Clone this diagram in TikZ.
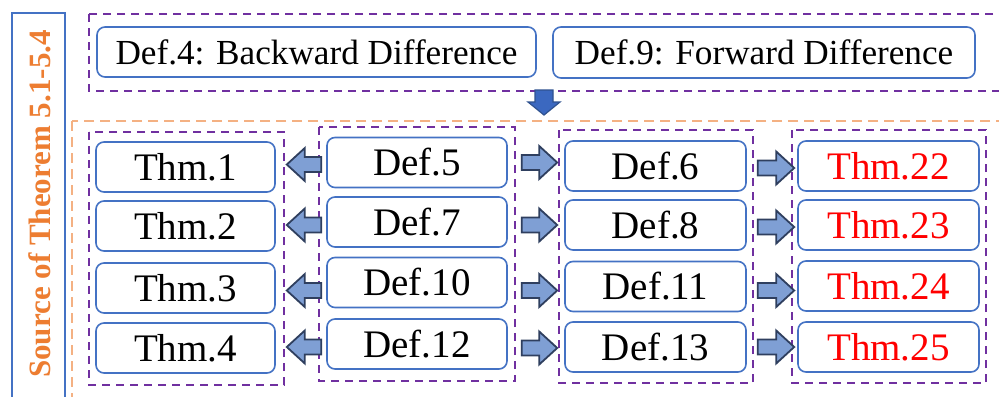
\documentclass[tikz,border=0pt]{standalone}
\usepackage{fontspec}
\setmainfont{Liberation Serif}
\usetikzlibrary{calc}
\definecolor{boxblue}{HTML}{4472C4}
\definecolor{purp}{HTML}{7030A0}
\definecolor{lorange}{HTML}{F4B183}
\definecolor{dorange}{HTML}{ED7D31}
\definecolor{arrfill}{HTML}{7F9FD4}
\definecolor{arrline}{HTML}{2F3F5F}
\definecolor{downfill}{HTML}{3B68C0}
\definecolor{downline}{HTML}{2F528F}
\tikzset{
  nbox/.style={draw=boxblue, line width=0.8pt, rounded corners=4pt, fill=white,
    minimum height=25pt, minimum width=90pt, inner sep=0pt,
    font=\fontsize{19.5}{22}\selectfont},
  wbox/.style={nbox, font=\fontsize{17.6}{20}\selectfont},
  redt/.style={text=red},
  group/.style={draw=purp, line width=1pt, dash pattern=on 4pt off 3pt},
  ogroup/.style={draw=lorange, line width=1pt, dash pattern=on 5pt off 3pt},
  blockarr/.style={fill=arrfill, draw=arrline, line width=0.9pt, line join=miter},
  downarr/.style={fill=downfill, draw=downline, line width=0.6pt}
}
\newcommand{\arrR}[2]{%
  \path[blockarr] let \p1=(#1), \p2=(#2) in
   (\x1,\y1+3.75pt) -- (\x2-9pt,\y1+3.75pt) -- (\x2-9pt,\y1+8.25pt) -- (\x2,\y1)
   -- (\x2-9pt,\y1-8.25pt) -- (\x2-9pt,\y1-3.75pt) -- (\x1,\y1-3.75pt) -- cycle;}
\newcommand{\arrL}[2]{%
  \path[blockarr] let \p1=(#1), \p2=(#2) in
   (\x1,\y1+3.75pt) -- (\x2+9pt,\y1+3.75pt) -- (\x2+9pt,\y1+8.25pt) -- (\x2,\y1)
   -- (\x2+9pt,\y1-8.25pt) -- (\x2+9pt,\y1-3.75pt) -- (\x1,\y1-3.75pt) -- cycle;}
\begin{document}
\begin{tikzpicture}[x=0.5pt,y=-0.5pt]
\useasboundingbox (0,0) rectangle (999,396);
\fill[white] (0,0) rectangle (999,396);
% left label
\draw[boxblue, line width=1pt] (12,13) rectangle (65,410);
\node[rotate=90, text=dorange, font=\bfseries\fontsize{15.5}{17}\selectfont] (src) at (40,204) {Source of Theorem 5.1-5.4};
% group frames
\draw[group] (89,14) rectangle (1010,91);
\draw[ogroup] (72,121) rectangle (1010,410);
\draw[group] (89,132) rectangle (284,385);
\draw[group] (319,127) rectangle (515,381);
\draw[group] (559,130) rectangle (753,383);
\draw[group] (792,130) rectangle (986,383);
% top nodes
\node[wbox, minimum width=219.5pt, minimum height=25pt] (d4) at (316.5,52) {Def.4: Backward Difference};
\node[wbox, minimum width=211pt, minimum height=25.5pt] (d9) at (764,52.5) {Def.9: Forward Difference};
% down arrow
\coordinate (dn) at (544,90);
\path[downarr] let \p1=(dn) in
  (\x1-4.5pt,\y1) -- (\x1+4.5pt,\y1) -- (\x1+4.5pt,\y1-6pt) -- (\x1+8pt,\y1-6pt)
  -- (\x1,\y1-12.5pt) -- (\x1-8pt,\y1-6pt) -- (\x1-4.5pt,\y1-6pt) -- cycle;
% column 1
\node[nbox, minimum width=89.5pt] (t1) at (185.5,167) {Thm.1};
\node[nbox, minimum width=89.5pt] (t2) at (185.5,226) {Thm.2};
\node[nbox, minimum width=89.5pt] (t3) at (185.5,288) {Thm.3};
\node[nbox, minimum width=89.5pt] (t4) at (185.5,348) {Thm.4};
% column 2
\node[nbox] (d5) at (417,162.5) {Def.5};
\node[nbox] (d7) at (417,222) {Def.7};
\node[nbox] (d10) at (417,282.5) {Def.10};
\node[nbox] (d12) at (417,344) {Def.12};
% column 3
\node[nbox, minimum width=90.5pt] (d6) at (655.5,166) {Def.6};
\node[nbox, minimum width=90.5pt] (d8) at (655.5,225) {Def.8};
\node[nbox, minimum width=90.5pt] (d11) at (655.5,286.5) {Def.11};
\node[nbox, minimum width=90.5pt] (d13) at (655.5,347) {Def.13};
% column 4
\node[nbox, redt, minimum width=90.5pt] (t22) at (888.5,166) {Thm.22};
\node[nbox, redt, minimum width=90.5pt] (t23) at (888.5,225) {Thm.23};
\node[nbox, redt, minimum width=90.5pt] (t24) at (888.5,286) {Thm.24};
\node[nbox, redt, minimum width=90.5pt] (t25) at (888.5,347) {Thm.25};
% arrows col2 -> col1
\arrL{$(d5.west)+(-5,2)$}{$(t1.east)+(11,0)$}
\arrL{$(d7.west)+(-5,3)$}{$(t2.east)+(11,0)$}
\arrL{$(d10.west)+(-5,8)$}{$(t3.east)+(11,0)$}
\arrL{$(d12.west)+(-5,3)$}{$(t4.east)+(11,0)$}
% arrows col2 -> col3
\arrR{$(d5.east)+(14,0)$}{$(d6.west)+(-7,0)$}
\arrR{$(d7.east)+(14,3)$}{$(d8.west)+(-7,0)$}
\arrR{$(d10.east)+(14,8)$}{$(d11.west)+(-7,0)$}
\arrR{$(d12.east)+(14,4)$}{$(d13.west)+(-7,0)$}
% arrows col3 -> col4
\arrR{$(d6.east)+(11,2)$}{$(t22.west)+(-3,0)$}
\arrR{$(d8.east)+(11,2)$}{$(t23.west)+(-3,0)$}
\arrR{$(d11.east)+(11,4)$}{$(t24.west)+(-3,0)$}
\arrR{$(d13.east)+(11,0)$}{$(t25.west)+(-3,0)$}
\end{tikzpicture}
\end{document}
